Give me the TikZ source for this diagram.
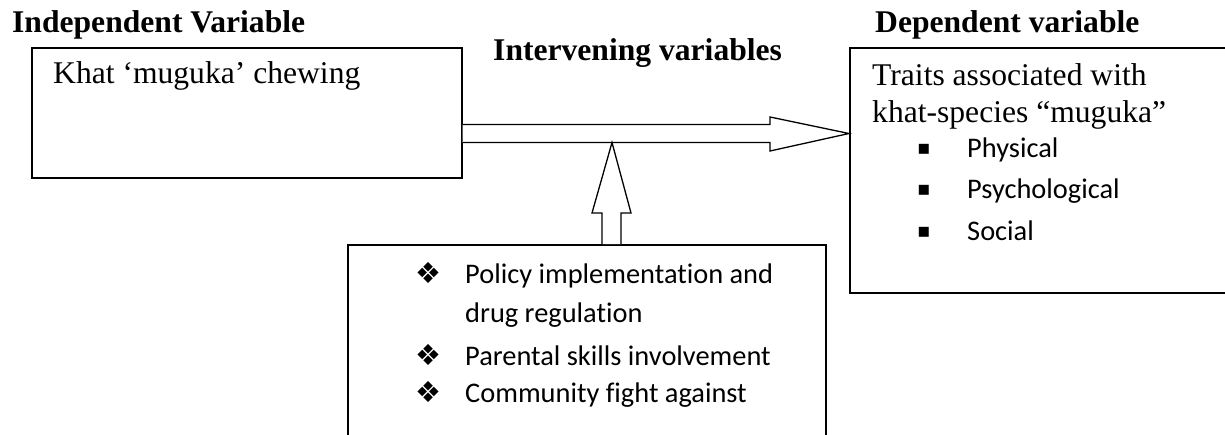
\documentclass[tikz,border=0pt]{standalone}
\usepackage{fontspec}
\setmainfont{Liberation Serif}
\newfontfamily\calib[Ligatures=NoCommon]{Carlito}
\newfontfamily\dejavu{DejaVu Sans}
\begin{document}
\begin{tikzpicture}[x=1pt,y=-1pt,
  box/.style={draw,line width=1.5pt,inner sep=0pt,anchor=north west},
  blockarrow/.style={draw,line width=1.3pt,fill=white,line join=miter},
  head/.style={anchor=base west,inner sep=0pt,font=\fontsize{31.6}{32}\selectfont\bfseries},
  body/.style={anchor=base west,inner sep=0pt,font=\fontsize{31.6}{32}\selectfont},
  item/.style={anchor=base west,inner sep=0pt,font=\calib\fontsize{28.4}{30}\selectfont},
  dia/.style={anchor=center,inner sep=0pt,font=\dejavu\fontsize{29}{29}\selectfont},
  sq/.style={anchor=center,inner sep=0pt,font=\dejavu\fontsize{20}{20}\selectfont}]
\useasboundingbox (0,0) rectangle (1225,434);
\clip (0,0) rectangle (1225,434);
\fill[white] (0,0) rectangle (1225,434);
% boxes
\node[box,minimum width=430pt,minimum height=130pt] (iv) at (31,47) {};
\node[box,minimum width=420pt,minimum height=245pt] (dv) at (849,47) {};
\node[box,minimum width=478pt,minimum height=240pt] (mv) at (347,244) {};
% headings
\node[head] (hiv) at (12,32) {Independent Variable};
\node[head] (hmv) at (493,60) {Intervening variables};
\node[head] (hdv) at (875,32) {Dependent variable};
% texts
\node[body] (tiv) at (53,83) {Khat ‘muguka’ chewing};
\node[body] (tdv1) at (872,85) {Traits associated with};
\node[body] (tdv2) at (872,122) {khat-species “muguka”};
\node[sq] (s1) at (924,149) {▪};
\node[item] (p1) at (967,157) {Physical};
\node[sq] (s2) at (924,190) {▪};
\node[item] (p2) at (967,198) {Psychological};
\node[sq] (s3) at (924,232) {▪};
\node[item] (p3) at (967,240) {Social};
\node[dia] (d1) at (428,273) {❖};
\node[item] (m1) at (465,283) {Policy implementation and};
\node[item] (m1b) at (465,322) {drug regulation};
\node[dia] (d2) at (428,355) {❖};
\node[item] (m2) at (465,365) {Parental skills involvement};
\node[dia] (d3) at (428,392) {❖};
\node[item] (m3) at (465,402) {Community fight against};
% horizontal block arrow (from independent box to dependent box)
\coordinate (tip) at (dv.north west |- 0,133.5);
\draw[blockarrow] (iv.north east |- 0,124.5) -- (770,124.5) -- (770,117) -- (tip)
  -- (770,151) -- (770,142.5) -- (iv.north east |- 0,142.5);
% vertical block arrow (from intervening box up to the shaft)
\coordinate (vtip) at (612,142.5);
\draw[blockarrow] (602,0 |- mv.north) -- (602,213) -- (592,213) -- (vtip)
  -- (631,213) -- (621,213) -- (621,0 |- mv.north);
\end{tikzpicture}
\end{document}
